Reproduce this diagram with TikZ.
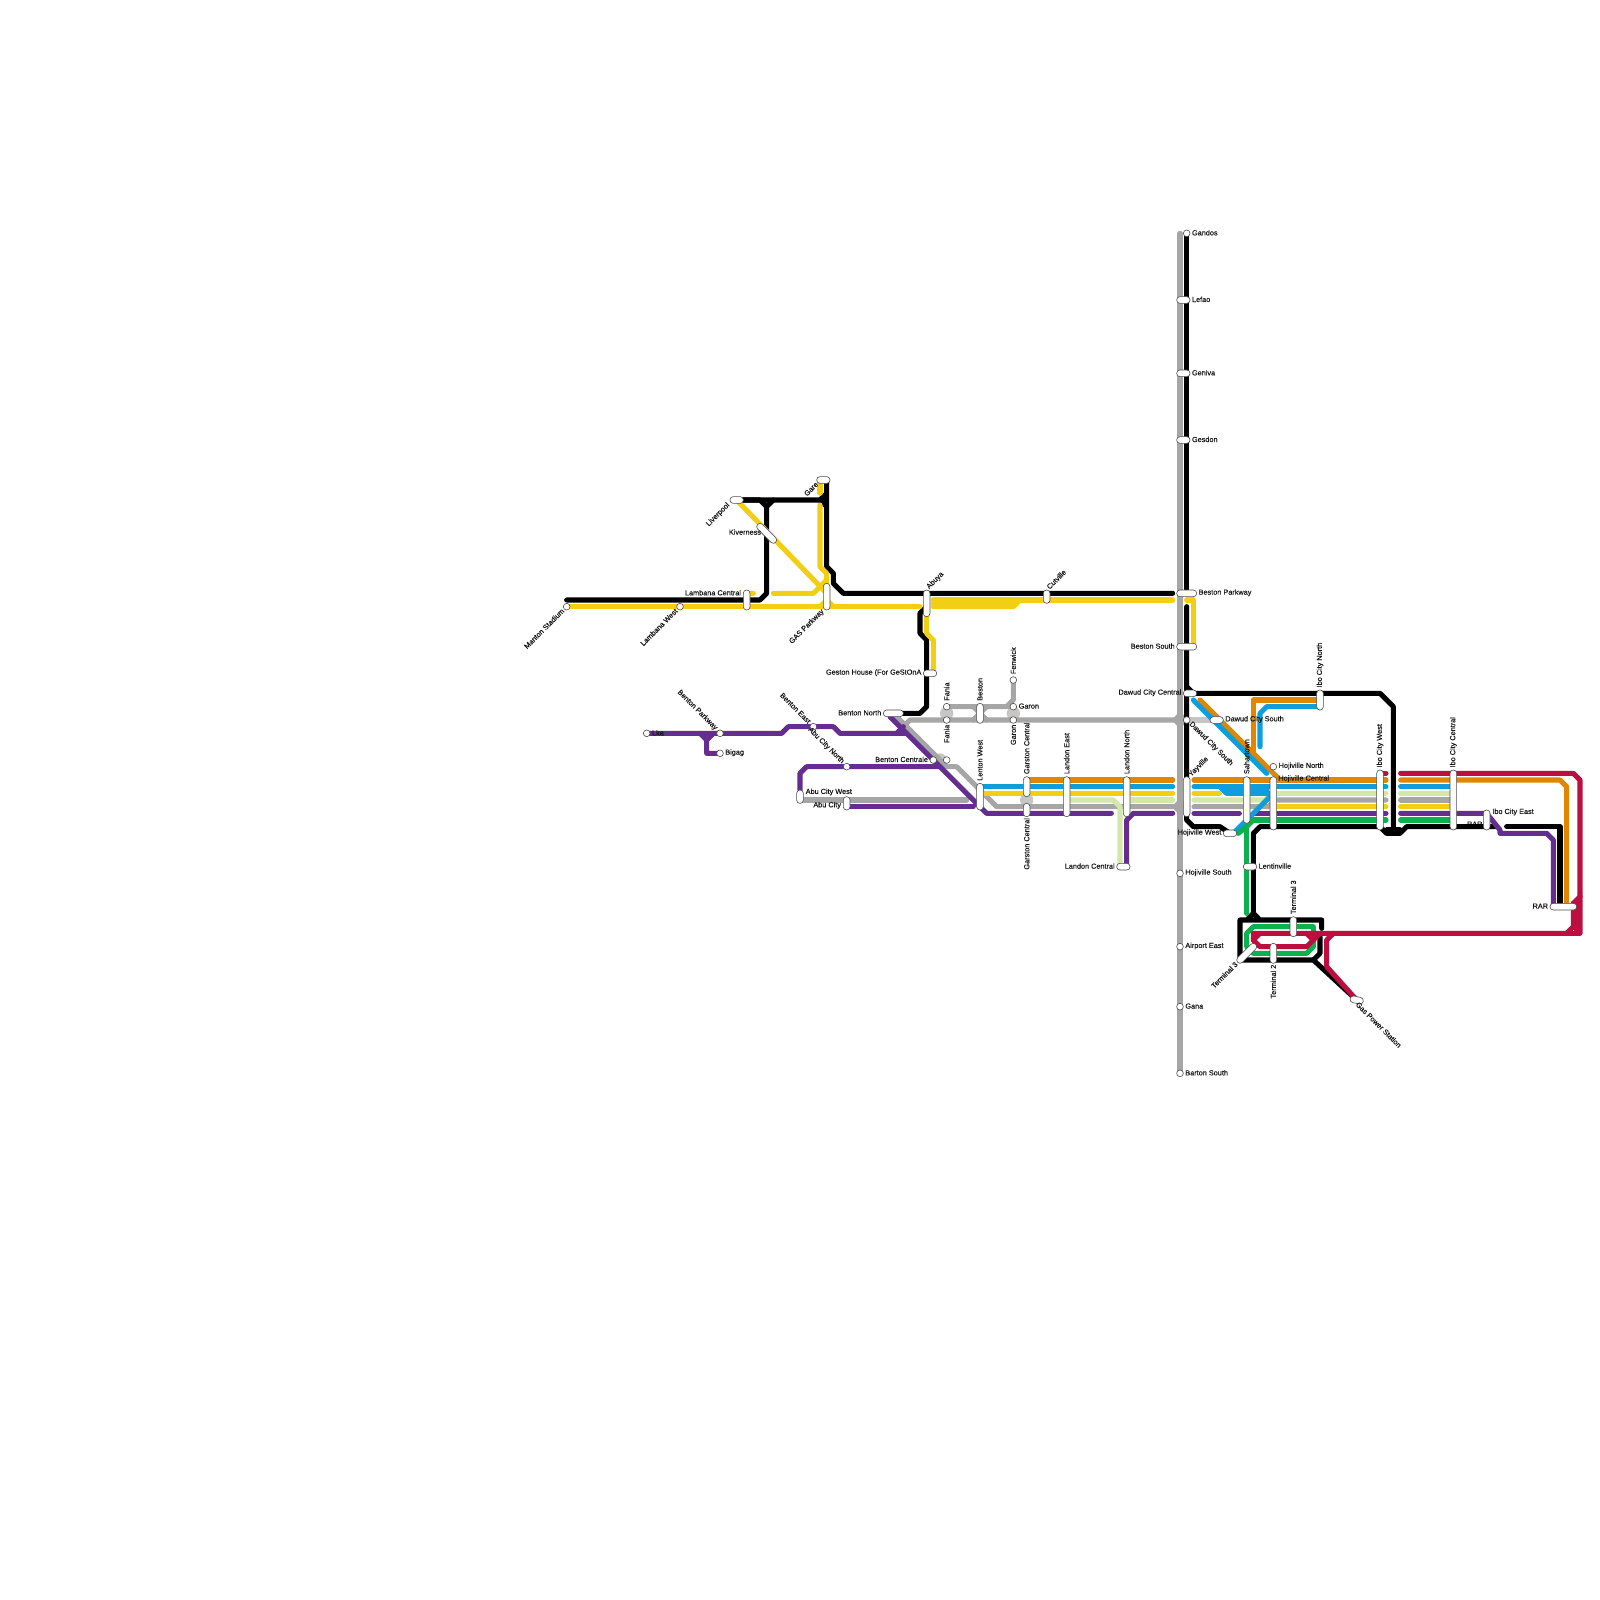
\documentclass[tikz,border=0pt]{standalone}
\usepackage{fontspec}
\setmainfont{Liberation Sans}
\newfontfamily\labfont{Liberation Sans}[FakeBold=0.22]
\definecolor{railblack}{HTML}{000000}
\definecolor{railgrey}{HTML}{A6A6A6}
\definecolor{railblob}{HTML}{C8C5C5}
\definecolor{railyellow}{HTML}{F2CF14}
\definecolor{railpurple}{HTML}{662D91}
\definecolor{railorange}{HTML}{E08600}
\definecolor{railblue}{HTML}{0F9DDB}
\definecolor{railpale}{HTML}{D2E7A9}
\definecolor{railgreen}{HTML}{0BB14F}
\definecolor{railred}{HTML}{BC0F3F}
\tikzset{
  rail/.style={line width=5.1pt, line cap=round, line join=round},
  stop/.style={circle, draw=black!70, fill=white, line width=0.6pt, inner sep=0pt, minimum size=6.7pt},
  vpill/.style={rectangle, draw=black!70, fill=white, line width=0.6pt, rounded corners=3.2pt, inner sep=0pt, minimum width=6.67pt, minimum height=#1*6.667pt},
  hpill/.style={rectangle, draw=black!70, fill=white, line width=0.6pt, rounded corners=3.2pt, inner sep=0pt, minimum height=6.67pt, minimum width=#1*6.667pt},
  lab/.style={font=\labfont\fontsize{7.3}{8}\selectfont, text=black!92, inner sep=1.5pt, yshift=0.6pt}
}

\begin{document}
\begin{tikzpicture}[x=6.6667pt, y=-6.6667pt]
  \useasboundingbox (0,0) rectangle (240,240);

  % Coordinates
  \coordinate (Gandos) at (178,35);
  \coordinate (Lefao) at (177.5,45);
  \coordinate (Geniva) at (177.5,56);
  \coordinate (Gesdon) at (177.5,66);
  \coordinate (BestonParkway) at (178,89);
  \coordinate (BestonSouth) at (178,97);
  \coordinate (DawudCentral) at (178.5,104);
  \coordinate (DawudStop) at (178,108);
  \coordinate (DawudPill) at (182.5,108);
  \coordinate (Yayville) at (178,119.5);
  \coordinate (HojivilleWest) at (184.5,125);
  \coordinate (HojivilleSouth) at (177,131);
  \coordinate (AirportEast) at (177,142);
  \coordinate (Gana) at (177,151);
  \coordinate (BartonSouth) at (177,161);
  \coordinate (Manton) at (85,91);
  \coordinate (LambanaWest) at (102,91);
  \coordinate (LambanaCentral) at (112,90);
  \coordinate (Liverpool) at (110.5,75);
  \coordinate (Kiverness) at (115,80);
  \coordinate (Gare) at (123.5,72);
  \coordinate (GasParkway) at (124,89.5);
  \coordinate (Abuya) at (139,90.5);
  \coordinate (Cutville) at (157,89.5);
  \coordinate (Geston) at (139.5,101);
  \coordinate (BentonNorth) at (134,107);
  \coordinate (Lka) at (97,110);
  \coordinate (BentonParkway) at (108,110);
  \coordinate (Bigag) at (108,113);
  \coordinate (BentonEast) at (122,109);
  \coordinate (AbuNorth) at (127,115);
  \coordinate (AbuWest) at (120,119.5);
  \coordinate (AbuCity) at (127,120.5);
  \coordinate (Centrale) at (140,114);
  \coordinate (CentraleB) at (142,114);
  \coordinate (FaniaA) at (142,106);
  \coordinate (FaniaB) at (142,108);
  \coordinate (Beston) at (147,107);
  \coordinate (GaronA) at (152,106);
  \coordinate (GaronB) at (152,108);
  \coordinate (Fenwick) at (152,102);
  \coordinate (LentonWest) at (147,119.5);
  \coordinate (GarstonA) at (154,118);
  \coordinate (GarstonB) at (154,121.5);
  \coordinate (LandonEast) at (160,119.5);
  \coordinate (LandonNorth) at (169,119.5);
  \coordinate (LandonCentral) at (168.5,130);
  \coordinate (Sahartown) at (187,120);
  \coordinate (HojivilleNorth) at (191,115);
  \coordinate (HojivilleCentral) at (191,120.5);
  \coordinate (IboNorth) at (198,105);
  \coordinate (IboWest) at (207,120);
  \coordinate (IboCentral) at (218,120);
  \coordinate (IboEast) at (223,123);
  \coordinate (Rar) at (234.5,136);
  \coordinate (Lentinville) at (187.5,130);
  \coordinate (TerminalA) at (194,139);
  \coordinate (TerminalB) at (191,143);
  \coordinate (TerminalC) at (187,143);
  \coordinate (GasPower) at (203.5,150);

  % Hidden label
  \node[lab] (rarhidden) at (221.2,123.7) {RAR};

  % Interchange links
  \fill[railblob] (142,107) circle (1);
  \fill[railblob] (152,107) circle (1);
  \fill[railblob] (141,114) circle (1);
  \fill[railblob] (154,120) circle (1);
  \draw[rail, railblob] (DawudStop) -- (DawudPill);

  % Grey
  \draw[rail, railgrey] (177,35) -- (BartonSouth);
  \draw[rail, railgrey] (134,107) -- (142,115) -- (143.5,115) -- (149.5,121) -- (176.5,121);
  \draw[rail, railgrey] (135.5,109) -- (136.5,108) -- (177,108);
  \draw[rail, railgrey] (Fenwick) -- (152,105) -- (151,106) -- (FaniaA);
  \draw[rail, railgrey] (FaniaA) -- (GaronA);
  \draw[rail, railgrey] (146,108) -- (148,106);
  \draw[rail, railgrey] (146,106) -- (148,108);
  \draw[rail, railgrey] (120,120) -- (145,120);
  \draw[rail, railgrey] (179.1,121) -- (190.25,121) -- (191.25,120) -- (207.9,120);
  \draw[rail, railgrey] (210.1,120) -- (218,120);
  \fill[railgrey] (175.7,108) -- (177,106.7) -- (178.3,108) -- (177,109.3) -- cycle;
  \fill[railgrey] (175.7,121) -- (177,119.7) -- (178.3,121) -- (177,122.3) -- cycle;

  % Black
  \draw[rail, railblack] (85,90) -- (114,90) -- (115,89) -- (115,76) -- (114,75) -- (Liverpool);
  \draw[rail, railblack] (Liverpool) -- (123,75) -- (124,74);
  \draw[rail, railblack] (116,75) -- (115,76);
  \draw[rail, railblack] (123,75) -- (124,76);
  \draw[rail, railblack] (124,72) -- (124,85) -- (125,86) -- (125,87.5) -- (126.5,89) -- (175.9,89);
  \draw[rail, railblack] (BentonNorth) -- (138,107) -- (139,106) -- (139,96) -- (138,95) -- (138,92) -- (139,91);
  \draw[rail, railblack] (Gandos) -- (178,89);
  \draw[rail, railblack] (178,91) -- (178,123) -- (179,124) -- (183,124) -- (HojivilleWest);
  \draw[rail, railblack] (178,103) -- (179,104) -- (207,104) -- (209,106) -- (209,124.5);
  \draw[rail, railblack] (188,137) -- (188,125) -- (189,124) -- (207,124) -- (208,125) -- (210,125) -- (211,124) -- (224.25,124);
  \draw[rail, railblack] (208,124.5) -- (210,124.5);
  \draw[rail, railblack] (226,124) -- (234,124) -- (234,136);
  \draw[rail, railblack] (187.25,137.75) -- (188,137) -- (188.75,137.75);
  \draw[rail, railblack] (198.25,139.25) -- (198.25,138) -- (186,138) -- (186,144) -- (197,144) -- (GasPower);
  \draw[rail, railblack] (198,140.5) -- (198,143) -- (197,144);

  % Yellow
  \draw[rail, railyellow] (85,91) -- (138,91);
  \draw[rail, railyellow] (112,89) -- (113,89);
  \draw[rail, railyellow] (116,89) -- (122,89) -- (123,88) -- (124,87);
  \draw[rail, railyellow] (Liverpool) -- (124,89);
  \draw[rail, railyellow] (123,72.25) -- (123,74);
  \draw[rail, railyellow] (123,75.75) -- (123,85) -- (124,86) -- (124,90) -- (123,91);
  \draw[rail, railyellow] (124,90) -- (125,91);
  \draw[rail, railyellow] (140,90) -- (175.9,90);
  \draw[rail, railyellow] (140,91) -- (152,91) -- (153,90);
  \draw[rail, railyellow] (140,90.5) -- (152,90.5);
  \draw[rail, railyellow] (139,92) -- (139,95) -- (140,96) -- (140,101);
  \draw[rail, railyellow] (178,90) -- (179,90) -- (179,97);
  \draw[rail, railyellow] (147.75,119) -- (175.9,119);
  \draw[rail, railyellow] (179.1,119) -- (182.9,119);
  \draw[rail, railyellow] (191.5,121) -- (207.9,121);
  \draw[rail, railyellow] (210.1,121) -- (218,121);

  % Pale green
  \draw[rail, railpale] (160.5,120) -- (167,120) -- (168,121) -- (168,130);
  \draw[rail, railpale] (169.5,120) -- (175.9,120);
  \draw[rail, railpale] (179.1,120) -- (189.75,120) -- (190.75,119) -- (207.9,119);
  \draw[rail, railpale] (210.1,119) -- (218,119);

  % Purple
  \draw[rail, railpurple] (Lka) -- (117.25,110) -- (118.25,109) -- (125,109) -- (126,110) -- (134.5,110) -- (135.5,109);
  \draw[rail, railpurple] (134.5,110) -- (136,110);
  \draw[rail, railpurple] (105,110) -- (106,111) -- (106,113) -- (Bigag);
  \draw[rail, railpurple] (107,110) -- (106,111);
  \draw[rail, railpurple] (133.5,107.5) -- (147.5,121.5) -- (148,122) -- (166.7,122);
  \draw[rail, railpurple] (120,118.5) -- (120,116) -- (121,115) -- (141,115);
  \draw[rail, railpurple] (AbuCity) -- (127,121) -- (146,121);
  \draw[rail, railpurple] (169,130) -- (169,123) -- (170,122) -- (175.9,122);
  \draw[rail, railpurple] (179.1,122) -- (185.9,122);
  \draw[rail, railpurple] (188.1,122) -- (207.9,122);
  \draw[rail, railpurple] (210.1,122) -- (223,122) -- (225,124.5) -- (225,125) -- (232,125) -- (233,126) -- (233,136);

  % Orange
  \draw[rail, railorange] (154.5,117) -- (175.9,117);
  \draw[rail, railorange] (179.1,117) -- (207.9,117);
  \draw[rail, railorange] (210.1,117) -- (234,117) -- (235,118) -- (235,136);
  \draw[rail, railorange] (180,105) -- (192,117);
  \draw[rail, railorange] (IboNorth) -- (188,105) -- (188,113);

  % Blue
  \draw[rail, railblue] (147.5,118) -- (175.9,118);
  \draw[rail, railblue] (179.1,118) -- (207.9,118);
  \draw[rail, railblue] (210.1,118) -- (218,118);
  \draw[rail, railblue] (183,118) -- (184,119) -- (191,119) -- (185.25,124.75);
  \draw[rail, railblue] (184,118.5) -- (190,118.5);
  \draw[rail, railblue] (179,105) -- (190,116);
  \draw[rail, railblue] (198,106) -- (190,106) -- (189,107) -- (189,112);

  % Green
  \draw[rail, railgreen] (188,123) -- (207.9,123);
  \draw[rail, railgreen] (210.1,123) -- (218,123);
  \draw[rail, railgreen] (188,123) -- (187,124) -- (185.75,125);
  \draw[rail, railgreen] (187,124) -- (187,137);
  \draw[rail, railgreen] (197,140.75) -- (197,139) -- (188,139) -- (187,140) -- (187,142) -- (188,143) -- (196,143) -- (197,142) -- (197,140.75);

  % Red
  \draw[rail, railred] (207,116) -- (207.9,116);
  \draw[rail, railred] (210.1,116) -- (236,116) -- (237,117) -- (237,140) -- (188,140) -- (188,141) -- (189,142) -- (196,142) -- (197,141) -- (198,140);
  \draw[rail, railred] (188,141) -- (189,140);
  \draw[rail, railred] (196,140) -- (197,141);
  \draw[rail, railred] (236,135.5) -- (236,139) -- (235,140);
  \draw[rail, railred] (236,135.5) -- (237,134.5);
  \draw[rail, railred] (236.5,135.5) -- (236.5,139.5);
  \draw[rail, railred] (GasPower) -- (199,145) -- (199,141) -- (200,140);

  % Stops
  \node[stop] (gandos) at (Gandos) {};
  \node[stop] (dawudstop) at (DawudStop) {};
  \node[stop] (hojsouth) at (HojivilleSouth) {};
  \node[stop] (airport) at (AirportEast) {};
  \node[stop] (gana) at (Gana) {};
  \node[stop] (barton) at (BartonSouth) {};
  \node[stop] (manton) at (Manton) {};
  \node[stop] (lamwest) at (LambanaWest) {};
  \node[stop] (lka) at (Lka) {};
  \node[stop] (benpark) at (BentonParkway) {};
  \node[stop] (bigag) at (Bigag) {};
  \node[stop] (beneast) at (BentonEast) {};
  \node[stop] (abunorth) at (AbuNorth) {};
  \node[stop] (centrale) at (Centrale) {};
  \node[stop] (centraleb) at (CentraleB) {};
  \node[stop] (faniaa) at (FaniaA) {};
  \node[stop] (faniab) at (FaniaB) {};
  \node[stop] (garona) at (GaronA) {};
  \node[stop] (garonb) at (GaronB) {};
  \node[stop] (fenwick) at (Fenwick) {};
  \node[stop] (hojnorth) at (HojivilleNorth) {};

  % Pills
  \node[hpill=2] (lefao) at (Lefao) {};
  \node[hpill=2] (geniva) at (Geniva) {};
  \node[hpill=2] (gesdon) at (Gesdon) {};
  \node[hpill=3] (bestpark) at (BestonParkway) {};
  \node[hpill=3] (bestsouth) at (BestonSouth) {};
  \node[hpill=2] (dawudcent) at (DawudCentral) {};
  \node[hpill=2] (dawudpill) at (DawudPill) {};
  \node[vpill=6] (yayville) at (Yayville) {};
  \node[hpill=2] (hojwest) at (HojivilleWest) {};
  \node[vpill=3] (lamcent) at (LambanaCentral) {};
  \node[hpill=2] (liverpool) at (Liverpool) {};
  \node[hpill=3.8, rotate=-45] (kiverness) at (Kiverness) {};
  \node[hpill=2] (gare) at (Gare) {};
  \node[vpill=4] (gaspark) at (GasParkway) {};
  \node[vpill=4] (abuya) at (Abuya) {};
  \node[vpill=2] (cutville) at (Cutville) {};
  \node[hpill=2] (geston) at (Geston) {};
  \node[hpill=3] (bennorth) at (BentonNorth) {};
  \node[vpill=2] (abuwest) at (AbuWest) {};
  \node[vpill=2] (abucity) at (AbuCity) {};
  \node[vpill=3] (beston) at (Beston) {};
  \node[vpill=4] (lenton) at (LentonWest) {};
  \node[vpill=3] (garstona) at (GarstonA) {};
  \node[vpill=2] (garstonb) at (GarstonB) {};
  \node[vpill=6] (landeast) at (LandonEast) {};
  \node[vpill=6] (landnorth) at (LandonNorth) {};
  \node[hpill=2] (landcent) at (LandonCentral) {};
  \node[vpill=7] (sahartown) at (Sahartown) {};
  \node[vpill=8] (hojcent) at (HojivilleCentral) {};
  \node[vpill=3] (ibonorth) at (IboNorth) {};
  \node[vpill=9] (ibowest) at (IboWest) {};
  \node[vpill=9] (ibocent) at (IboCentral) {};
  \node[vpill=3] (iboeast) at (IboEast) {};
  \node[hpill=4] (rar) at (Rar) {};
  \node[hpill=2] (lentin) at (Lentinville) {};
  \node[vpill=3] (terma) at (TerminalA) {};
  \node[vpill=3] (termb) at (TerminalB) {};
  \node[hpill=3.8, rotate=45] (termc) at (TerminalC) {};
  \node[hpill=2, rotate=-12] (gaspower) at (GasPower) {};

  % Labels
  \node[lab, anchor=west] at (gandos.east) {Gandos};
  \node[lab, anchor=west] at (lefao.east) {Lefao};
  \node[lab, anchor=west] at (geniva.east) {Geniva};
  \node[lab, anchor=west] at (gesdon.east) {Gesdon};
  \node[lab, anchor=west] at (bestpark.east) {Beston Parkway};
  \node[lab, anchor=east] at (bestsouth.west) {Beston South};
  \node[lab, anchor=east] at (dawudcent.west) {Dawud City Central};
  \node[lab, anchor=west] at (dawudpill.east) {Dawud City South};
  \node[lab, anchor=west, rotate=-45] at (dawudstop.south east) {Dawud City South};
  \node[lab, anchor=west, rotate=45] at (178.3,116.6) {Yayville};
  \node[lab, anchor=east] at (hojwest.west) {Hojiville West};
  \node[lab, anchor=west] at (hojsouth.east) {Hojiville South};
  \node[lab, anchor=west] at (airport.east) {Airport East};
  \node[lab, anchor=west] at (gana.east) {Gana};
  \node[lab, anchor=west] at (barton.east) {Barton South};
  \node[lab, anchor=east, rotate=45] at (manton.south west) {Manton Stadium};
  \node[lab, anchor=east, rotate=45] at (lamwest.south west) {Lambana West};
  \node[lab, anchor=east] at (111.4,89) {Lambana Central};
  \node[lab, anchor=east, rotate=45] at (liverpool.south west) {Liverpool};
  \node[lab, anchor=east] at (114.4,79.9) {Kiverness};
  \node[lab, anchor=east, rotate=45] at (122.7,72.4) {Gare};
  \node[lab, anchor=east, rotate=45] at (123.6,91.5) {GAS Parkway};
  \node[lab, anchor=west, rotate=45] at (abuya.north) {Abuya};
  \node[lab, anchor=west, rotate=45] at (cutville.north) {Cutville};
  \node[lab, anchor=east] at (geston.west) {Geston House (For GeStOnA};
  \node[lab, anchor=east] at (bennorth.west) {Benton North};
  \node[lab, anchor=west] at (lka.east) {Lka};
  \node[lab, anchor=east, rotate=-45] at (benpark.north west) {Benton Parkway};
  \node[lab, anchor=west] at (bigag.east) {Bigag};
  \node[lab, anchor=east, rotate=-45] at (beneast.north west) {Benton East};
  \node[lab, anchor=east, rotate=-45] at (abunorth.north west) {Abu City North};
  \node[lab, anchor=west] at (120.6,118.9) {Abu City West};
  \node[lab, anchor=east] at (126.4,120.9) {Abu City};
  \node[lab, anchor=east] at (centrale.west) {Benton Centrale};
  \node[lab, anchor=west, rotate=90] at (faniaa.north) {Fania};
  \node[lab, anchor=east, rotate=90] at (faniab.south) {Fania};
  \node[lab, anchor=west, rotate=90] at (beston.north) {Beston};
  \node[lab, anchor=west] at (garona.east) {Garon};
  \node[lab, anchor=east, rotate=90] at (garonb.south) {Garon};
  \node[lab, anchor=west, rotate=90] at (fenwick.north) {Fenwick};
  \node[lab, anchor=west, rotate=90] at (lenton.north) {Lenton West};
  \node[lab, anchor=west, rotate=90] at (garstona.north) {Garston Central};
  \node[lab, anchor=east, rotate=90] at (garstonb.south) {Garston Central};
  \node[lab, anchor=west, rotate=90] at (landeast.north) {Landon East};
  \node[lab, anchor=west, rotate=90] at (landnorth.north) {Landon North};
  \node[lab, anchor=east] at (landcent.west) {Landon Central};
  \node[lab, anchor=west, rotate=90] at (sahartown.north) {Sahartown};
  \node[lab, anchor=west] at (hojnorth.east) {Hojiville North};
  \node[lab, anchor=west] at (191.5,116.9) {Hojiville Central};
  \node[lab, anchor=west, rotate=90] at (ibonorth.north) {Ibo City North};
  \node[lab, anchor=west, rotate=90] at (ibowest.north) {Ibo City West};
  \node[lab, anchor=west, rotate=90] at (ibocent.north) {Ibo City Central};
  \node[lab, anchor=west] at (223.6,121.9) {Ibo City East};
  \node[lab, anchor=east] at (rar.west) {RAR};
  \node[lab, anchor=west] at (lentin.east) {Lentinville};
  \node[lab, anchor=west, rotate=90] at (terma.north) {Terminal 3};
  \node[lab, anchor=east, rotate=90] at (termb.south) {Terminal 2};
  \node[lab, anchor=east, rotate=45] at (termc.west) {Terminal 3};
  \node[lab, anchor=west, rotate=-45] at (203.4,150.4) {Gas Power Station};
\end{tikzpicture}
\end{document}
